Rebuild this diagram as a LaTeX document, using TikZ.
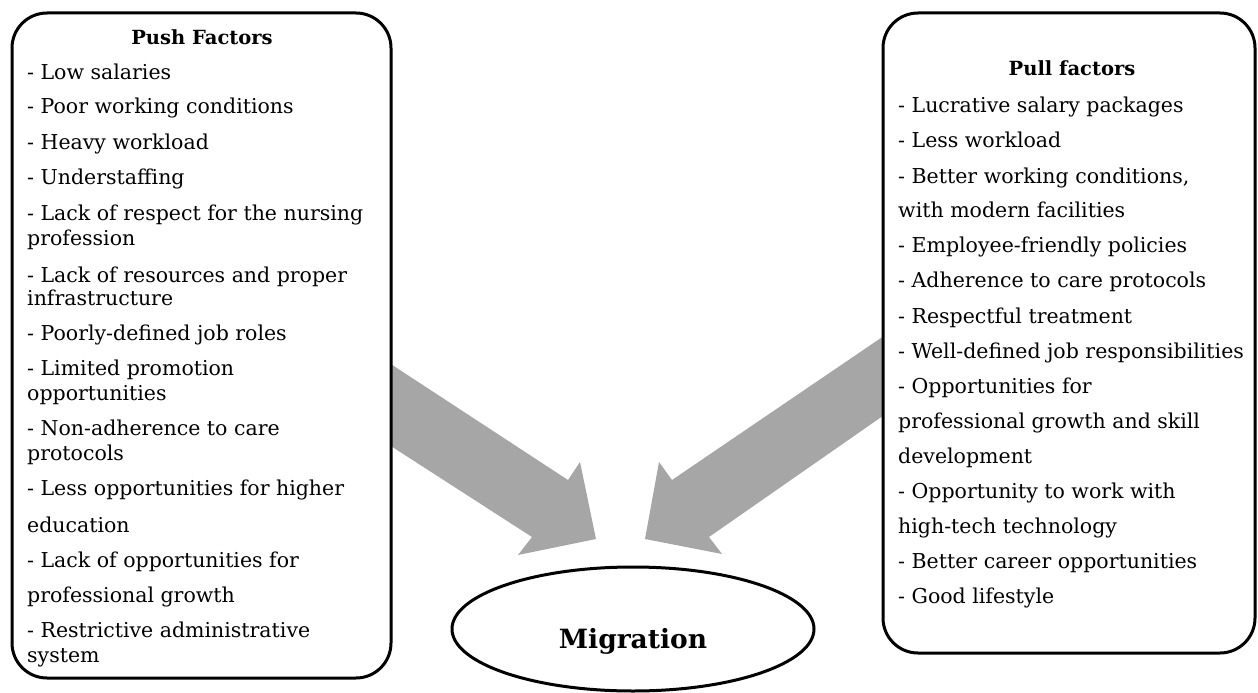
\documentclass[tikz,border=0pt]{standalone}
\usepackage{fontspec}
\setmainfont{DejaVu Serif}
\usetikzlibrary{shapes.geometric}
\definecolor{arrowgray}{HTML}{A6A6A6}
\begin{document}
\begin{tikzpicture}[x=1pt,y=-1pt,
  txt/.style={anchor=base west, inner sep=0pt, font=\fontsize{20.5}{24}\selectfont},
  ttl/.style={anchor=base, inner sep=0pt, font=\fontsize{19.5}{24}\selectfont\bfseries},
  factorbox/.style={draw=black, line width=3pt, rounded corners=35pt, fill=white},
  bigarrow/.style={fill=arrowgray, draw=none}]
\useasboundingbox (0,0) rectangle (1258,693);
% block arrows
\fill[bigarrow] (380,357) -- (568,480) -- (580,462) -- (596,539) -- (518,555) -- (532,537) -- (380,439) -- cycle;
\fill[bigarrow] (900,325) -- (672,480) -- (659,462) -- (645,539) -- (722,554) -- (709,537) -- (900,404) -- cycle;
% boxes
\draw[factorbox] (12,13) rectangle (391,678);
\draw[factorbox] (883,13) rectangle (1255,653);
% ellipse
\node (mig) [draw, ellipse, line width=3pt, minimum width=362pt, minimum height=124pt, inner sep=0pt] at (633,629) {};
\node (migt) [anchor=base, inner sep=0pt, font=\fontsize{26.5}{32}\selectfont\bfseries] at (633,648) {Migration};
% push
\node (pt) [ttl] at (202,45) {Push Factors};
\node (p1) [txt] at (27,79) {- Low salaries};
\node (p2) [txt] at (27,113) {- Poor working conditions};
\node (p3) [txt] at (27,149) {- Heavy workload};
\node (p4) [txt] at (27,184) {- Understaffing};
\node (p5) [txt] at (27,220) {- Lack of respect for the nursing};
\node (p5b) [txt] at (27,245) {profession};
\node (p6) [txt] at (27,282) {- Lack of resources and proper};
\node (p6b) [txt] at (27,305) {infrastructure};
\node (p7) [txt] at (27,340) {- Poorly-defined job roles};
\node (p8) [txt] at (27,375) {- Limited promotion};
\node (p8b) [txt] at (27,400) {opportunities};
\node (p9) [txt] at (27,435) {- Non-adherence to care};
\node (p9b) [txt] at (27,460) {protocols};
\node (p10) [txt] at (27,495) {- Less opportunities for higher};
\node (p10b) [txt] at (27,532) {education};
\node (p11) [txt] at (27,567) {- Lack of opportunities for};
\node (p11b) [txt] at (27,602) {professional growth};
\node (p12) [txt] at (27,637) {- Restrictive administrative};
\node (p12b) [txt] at (27,662) {system};
% pull
\node (qt) [ttl] at (1072,75) {Pull factors};
\node (q1) [txt] at (898,112) {- Lucrative salary packages};
\node (q2) [txt] at (898,147) {- Less workload};
\node (q3) [txt] at (898,183) {- Better working conditions,};
\node (q3b) [txt] at (898,217) {with modern facilities};
\node (q4) [txt] at (898,252) {- Employee-friendly policies};
\node (q5) [txt] at (898,287) {- Adherence to care protocols};
\node (q6) [txt] at (898,323) {- Respectful treatment};
\node (q7) [txt] at (898,358) {- Well-defined job responsibilities};
\node (q8) [txt] at (898,393) {- Opportunities for};
\node (q8b) [txt] at (898,428) {professional growth and skill};
\node (q8c) [txt] at (898,463) {development};
\node (q9) [txt] at (898,498) {- Opportunity to work with};
\node (q9b) [txt] at (898,533) {high-tech technology};
\node (q10) [txt] at (898,568) {- Better career opportunities};
\node (q11) [txt] at (898,603) {- Good lifestyle};
\end{tikzpicture}
\end{document}
